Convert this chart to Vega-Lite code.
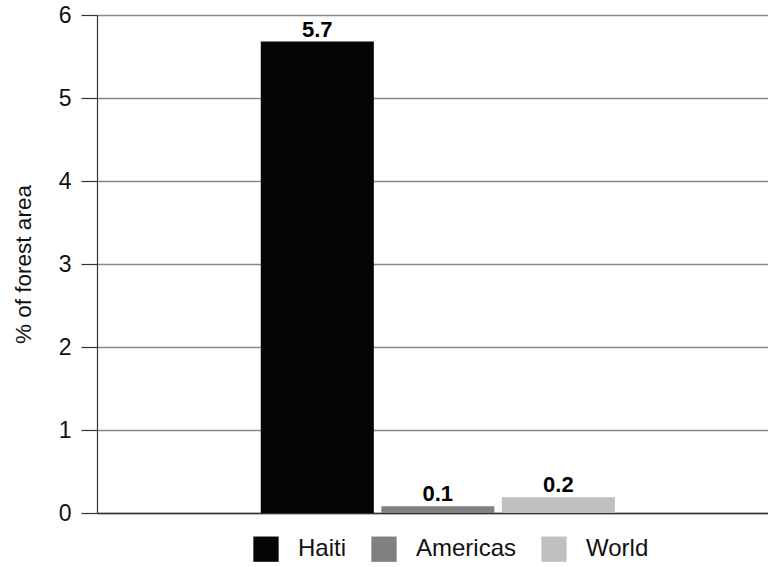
{
  "$schema": "https://vega.github.io/schema/vega-lite/v6.json",
  "autosize": {"type": "none"},
  "padding": {"left": 97, "top": 15, "right": 0, "bottom": 54},
  "width": 671,
  "height": 498,
  "background": "white",
  "config": {
    "view": {"stroke": null},
    "font": "Liberation Sans"
  },
  "data": {
    "values": [
      {"region": "Haiti", "value": 5.68, "label": "5.7"},
      {"region": "Americas", "value": 0.08, "label": "0.1"},
      {"region": "World", "value": 0.19, "label": "0.2"}
    ]
  },
  "encoding": {
    "x": {
      "field": "region",
      "type": "nominal",
      "scale": {"domain": ["", "Haiti", "Americas", "World", " "], "paddingInner": 0.062, "paddingOuter": 0.315, "align": 0.57},
      "axis": {"labels": false, "ticks": false, "title": null, "domain": true, "domainColor": "#333333", "domainWidth": 1.5}
    },
    "y": {
      "field": "value",
      "type": "quantitative",
      "scale": {"domain": [0, 6], "nice": false},
      "axis": {
        "values": [0, 1, 2, 3, 4, 5, 6],
        "title": "% of forest area",
        "titleFontSize": 22.5,
        "titleFontWeight": "normal",
        "titleColor": "#111111",
        "titlePadding": 23,
        "labelFontSize": 23,
        "labelColor": "#111111",
        "labelPadding": 10,
        "tickSize": 16,
        "tickColor": "#333333",
        "tickWidth": 1.2,
        "domainColor": "#333333",
        "domainWidth": 1.2,
        "grid": true,
        "gridColor": "#888888",
        "gridWidth": 1.3
      }
    }
  },
  "layer": [
    {
      "mark": {"type": "bar"},
      "encoding": {
        "color": {
          "field": "region",
          "type": "nominal",
          "scale": {"domain": ["Haiti", "Americas", "World"], "range": ["#050505", "#808080", "#c0c0c0"]},
          "legend": {
            "title": null,
            "orient": "none",
            "direction": "horizontal",
            "legendX": 156,
            "legendY": 521,
            "symbolType": "square",
            "symbolSize": 640,
            "symbolStrokeWidth": 0,
            "symbolOpacity": 1,
            "labelFontSize": 24,
            "labelColor": "#111111",
            "labelOffset": 19,
            "columnPadding": 24
          }
        }
      }
    },
    {
      "mark": {"type": "text", "baseline": "alphabetic", "dy": -5, "fontSize": 22, "fontWeight": "bold", "color": "#000000"},
      "encoding": {
        "text": {"field": "label"}
      }
    }
  ]
}
